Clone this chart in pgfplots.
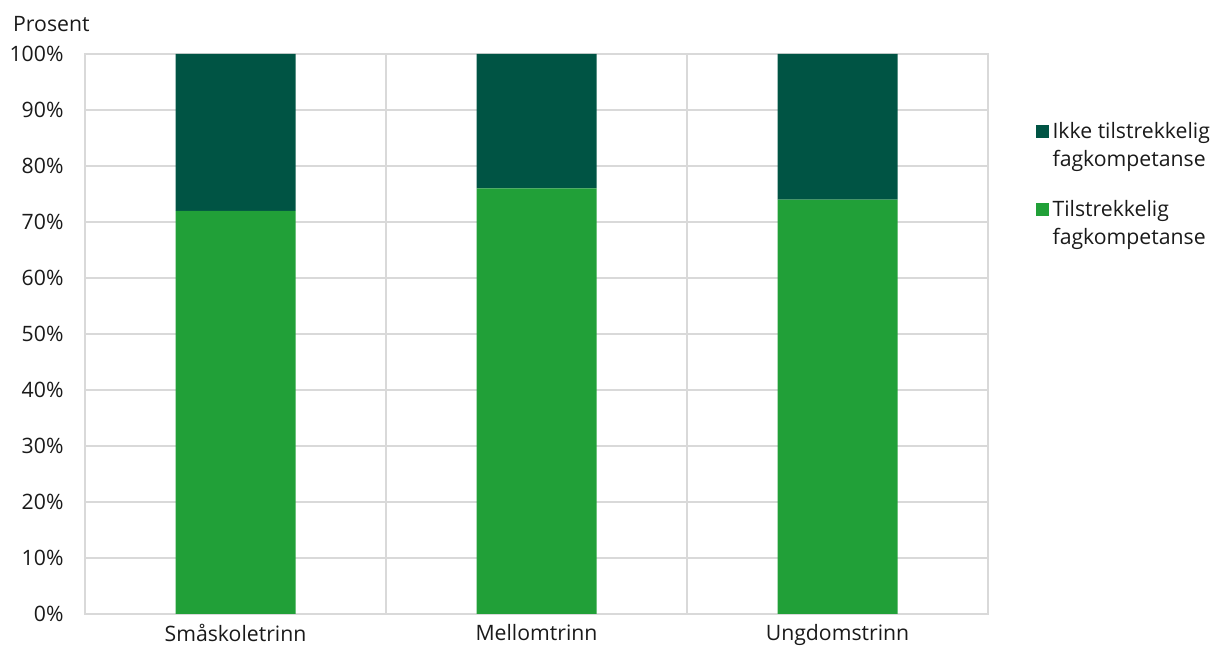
\documentclass[border=0pt]{standalone}
\usepackage{pgfplots}
\pgfplotsset{compat=1.18}
\usepackage{fontspec}
\setmainfont{Open Sans}
\definecolor{dk}{RGB}{0,84,68}
\definecolor{lt}{RGB}{33,160,56}
\definecolor{gr}{RGB}{217,217,217}
\definecolor{tx}{RGB}{26,26,26}
\newcommand{\cf}{\fontsize{21.3}{28}\selectfont}
\begin{document}
\begin{tikzpicture}[x=1bp,y=1bp]
\path[use as bounding box] (0,0) rectangle (1216,648);
\begin{axis}[
  at={(85bp,34bp)}, anchor=south west,
  scale only axis, width=903bp, height=560bp,
  ybar stacked, bar width=120bp,
  xmin=-0.5, xmax=2.5, ymin=0, ymax=100,
  xtick={0,1,2}, xticklabels={Småskoletrinn,Mellomtrinn,Ungdomstrinn},
  minor xtick={0.5,1.5}, xminorgrids,
  ytick={0,10,...,100}, ymajorgrids,
  yticklabel={\pgfmathprintnumber{\tick}\%},
  /pgf/number format/assume math mode=true,
  major tick length=0pt, minor tick length=0pt,
  axis line style={gr, line width=1.5bp},
  grid style={gr, line width=1.5bp},
  minor grid style={gr, line width=1.5bp},
  tick label style={font=\cf, text=tx},
  yticklabel style={xshift=-18bp},
  xticklabel style={yshift=-7bp},
  axis on top=false,
  reverse legend,
  legend cell align=left,
  legend style={at={(1.053,0.881)}, anchor=north west, draw=none, fill=none,
    font=\cf, text=tx, nodes={align=left, inner xsep=3.5bp}, row sep=28bp, inner sep=0pt},
  legend image code/.code={\fill[#1,draw=none] (0bp,7.5bp) rectangle (13bp,20.5bp);},
]
\addplot[fill=lt, draw=none] coordinates {(0,72) (1,76) (2,74)};
\addplot[fill=dk, draw=none] coordinates {(0,28) (1,24) (2,26)};
\legend{Tilstrekkelig\\fagkompetanse, Ikke tilstrekkelig\\fagkompetanse}
\end{axis}
\node[anchor=base west, inner sep=0pt, font=\cf, text=tx] at (13,616) {Prosent};
\end{tikzpicture}
\end{document}
